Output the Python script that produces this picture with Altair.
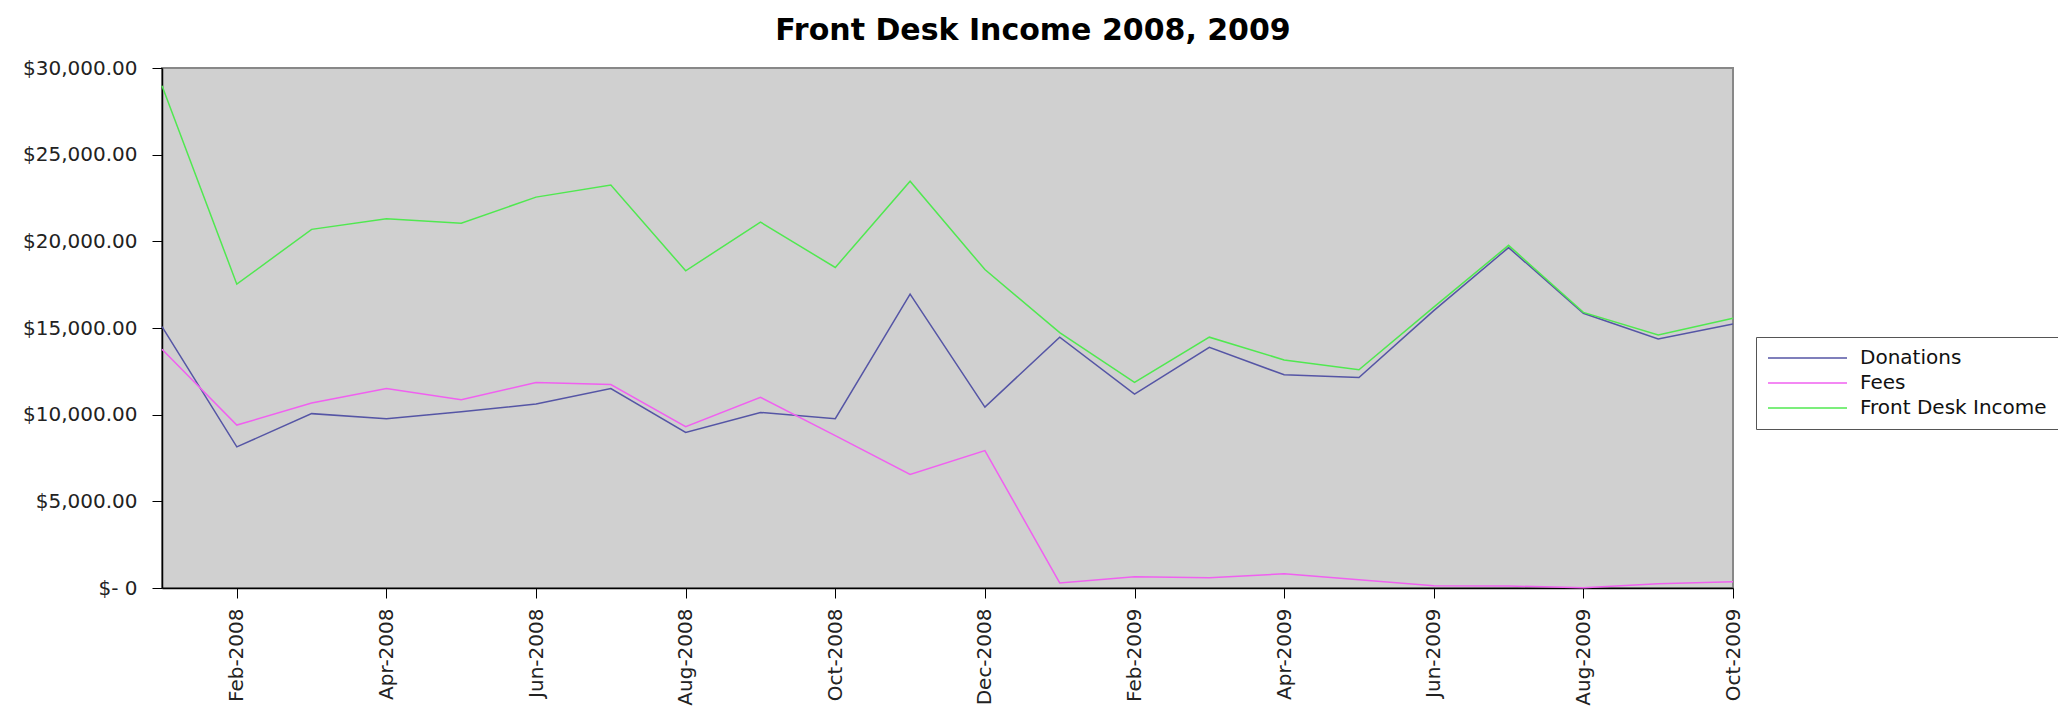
import altair as alt
import pandas as pd

months = ["Jan-2008", "Feb-2008", "Mar-2008", "Apr-2008", "May-2008", "Jun-2008",
          "Jul-2008", "Aug-2008", "Sep-2008", "Oct-2008", "Nov-2008", "Dec-2008",
          "Jan-2009", "Feb-2009", "Mar-2009", "Apr-2009", "May-2009", "Jun-2009",
          "Jul-2009", "Aug-2009", "Sep-2009", "Oct-2009"]

donations = [15075, 8140, 10060, 9770, 10170, 10610, 11510, 8970, 10130, 9770, 16950,
             10440, 14470, 11190, 13890, 12300, 12140, 16000, 19640, 15850, 14370, 15230]
fees = [13775, 9400, 10670, 11510, 10860, 11860, 11740, 9310, 11000, 8790, 6550,
        7930, 290, 650, 590, 820, 480, 130, 115, 20, 250, 360]
front_desk = [28970, 17530, 20690, 21300, 21050, 22550, 23250, 18300, 21110, 18490, 23470,
              18370, 14730, 11860, 14470, 13160, 12590, 16200, 19770, 15900, 14600, 15560]

series_names = ["Donations", "Fees", "Front Desk Income"]
series_colors = ["#5555a5", "#f060f0", "#50e850"]

rows = []
for name, vals in zip(series_names, [donations, fees, front_desk]):
    for i, (m, v) in enumerate(zip(months, vals)):
        rows.append({"idx": i, "month": m, "series": name, "value": v})
df = pd.DataFrame(rows)

label_array = "[" + ",".join("'" + m + "'" for m in months) + "]"
FONT = "DejaVu Sans"

chart = alt.Chart(df).mark_line(strokeWidth=1.5).encode(
    x=alt.X("idx:Q",
            scale=alt.Scale(domain=[0, 21], nice=False, zero=False),
            axis=alt.Axis(values=list(range(1, 22, 2)),
                          labelExpr=label_array + "[datum.value]",
                          labelAngle=270, title=None, grid=False,
                          tickSize=10, labelPadding=10, labelFontSize=20,
                          labelFont=FONT, labelColor="#222",
                          domainColor="black", domainWidth=1.5,
                          tickColor="black", labelOverlap=False)),
    y=alt.Y("value:Q",
            scale=alt.Scale(domain=[0, 30000], nice=False),
            axis=alt.Axis(values=[0, 5000, 10000, 15000, 20000, 25000, 30000],
                          labelExpr="datum.value == 0 ? '$- 0' : '$' + format(datum.value, ',.2f')",
                          title=None, grid=False, tickSize=10, labelPadding=15,
                          labelFontSize=20, labelFont=FONT, labelColor="#222",
                          domainColor="black", domainWidth=1.5,
                          tickColor="black", labelOverlap=False)),
    color=alt.Color("series:N",
                    scale=alt.Scale(domain=series_names, range=series_colors),
                    legend=alt.Legend(title=None, orient="none", legendX=1594, legendY=269,
                                      symbolType="stroke", symbolSize=6241,
                                      symbolStrokeWidth=1.5, labelFontSize=20,
                                      labelFont=FONT, labelColor="#111",
                                      labelOffset=12, padding=11, labelLimit=400,
                                      strokeColor="#555", fillColor="white",
                                      rowPadding=5, clipHeight=20)),
    order=alt.Order("idx:Q"),
).properties(
    width=1571,
    height=520,
    background="white",
    title=alt.TitleParams("Front Desk Income 2008, 2009", fontSize=30, font=FONT,
                          fontWeight="bold", anchor="middle", dx=85.5, offset=0, dy=12,
                          baseline="alphabetic", color="black"),
    padding={"left": 154, "top": 60, "right": 325, "bottom": 126},
    autosize=alt.AutoSizeParams(type="none"),
).configure_view(
    stroke="#888888", strokeWidth=2, fill="#d0d0d0"
)

chart.save("out.html", embed_options={"renderer": "svg", "actions": False})
